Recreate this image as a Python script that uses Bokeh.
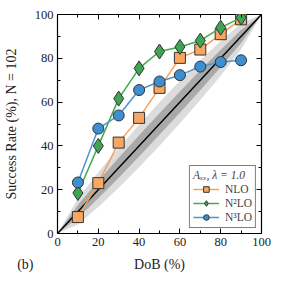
from bokeh.plotting import figure
from bokeh.layouts import column
from bokeh.models import (LinearAxis, Legend, LegendItem, FixedTicker, Range1d)
from bokeh.core.properties import value
from bokeh.embed import file_html
from bokeh.resources import INLINE

# ---- data ----
dob = [10, 20, 30, 40, 50, 60, 70, 80, 90]
nlo = [7.5, 23.0, 41.5, 52.8, 66.5, 80.2, 84.0, 91.0, 97.8]
n2lo = [18.5, 40.0, 61.6, 75.4, 83.1, 85.2, 88.1, 94.0, 98.6]
n3lo = [23.3, 47.9, 53.9, 65.5, 69.4, 72.3, 76.2, 78.3, 79.1]

band_x = [0, 10, 20, 30, 40, 50, 60, 70, 80, 90, 100]
band_1s = [0, 2.97, 3.96, 4.54, 4.85, 4.95, 4.85, 4.54, 3.96, 2.97, 0]
diag = [0, 100]
ticks_major = [0, 20, 40, 60, 80, 100]
ticks_minor = [10, 30, 50, 70, 90]
x_title = "DoB (%)"
y_title = "Success Rate (%), N = 102"
panel_tag = "(b)"

FONT = "Liberation Serif"
W = 271
BL, BR, BT, BB = 54, 10, 14, 20

p = figure(width=W, height=BT + 219 + BB, output_backend="svg", toolbar_location=None,
           x_range=Range1d(0, 100), y_range=Range1d(0, 100),
           min_border_left=BL, min_border_top=BT, min_border_right=BR, min_border_bottom=BB)
p.grid.visible = False
p.outline_line_color = "black"
p.outline_line_width = 1.2
p.background_fill_color = "white"

lo2 = [x - 2 * s for x, s in zip(band_x, band_1s)]
hi2 = [x + 2 * s for x, s in zip(band_x, band_1s)]
lo1 = [x - s for x, s in zip(band_x, band_1s)]
hi1 = [x + s for x, s in zip(band_x, band_1s)]
p.varea(x=band_x, y1=lo2, y2=hi2, fill_color="#dcdcdc")
p.varea(x=band_x, y1=lo1, y2=hi1, fill_color="#a9a9a9")
p.line(diag, diag, line_color="black", line_width=1.5)

series = [
    ("NLO", nlo, "#f6a05a", "#f9a662", "square", 11),
    ("N²LO", n2lo, "#43a84f", "#3fa553", "diamond", 15),
    ("N³LO", n3lo, "#4a95cf", "#3d8fcf", "circle", 11),
]
items = []
for name, ys, lc, fc, mk, sz in series:
    l = p.line(dob, ys, line_color=lc, line_width=1.5)
    s = p.scatter(dob, ys, marker=mk, size=sz, fill_color=fc, line_color="#333333", line_width=1)
    items.append(LegendItem(label=name, renderers=[l, s]))

for ax in (p.xaxis[0], p.yaxis[0]):
    ax.ticker = FixedTicker(ticks=ticks_major, minor_ticks=ticks_minor)
    ax.major_tick_in = 5
    ax.major_tick_out = 0
    ax.minor_tick_in = 3
    ax.minor_tick_out = 0
    ax.axis_line_color = None
    ax.major_label_text_font = FONT
    ax.major_label_text_font_size = "12.5px"
    ax.major_label_text_color = "#222222"
    ax.axis_label_text_font = FONT
    ax.axis_label_text_font_size = "14px"
    ax.axis_label_text_font_style = "normal"
    ax.axis_label_text_color = "#222222"
    ax.major_label_standoff = 4

p.yaxis[0].axis_label = y_title
p.yaxis[0].axis_label_standoff = 13

for loc in ("above", "right"):
    ax = LinearAxis(ticker=FixedTicker(ticks=ticks_major, minor_ticks=ticks_minor))
    ax.major_tick_in = 5
    ax.major_tick_out = 0
    ax.minor_tick_in = 3
    ax.minor_tick_out = 0
    ax.axis_line_color = None
    ax.major_label_text_font_size = "0px"
    ax.major_label_standoff = 0
    p.add_layout(ax, loc)

leg = Legend(items=items, location="bottom_right", title="Aₓₓ, λ = 1.0")
leg.title_text_font = FONT
leg.title_text_font_size = "11.5px"
leg.title_text_font_style = "italic"
leg.label_text_font = FONT
leg.label_text_font_size = "11.5px"
leg.border_line_color = "black"
leg.border_line_width = 1.5
leg.background_fill_alpha = 1.0
leg.glyph_width = 26
leg.glyph_height = 14
leg.label_height = 13
leg.spacing = 0
leg.padding = 3
leg.margin = 5
leg.label_standoff = 6
leg.title_standoff = 1
p.add_layout(leg)

# strip below the plot (frame aligned with the main plot) carrying the
# x-axis title (centred) and the panel tag (as a left-axis label)
H2 = 22
p2 = figure(width=W, height=H2, output_backend="svg", toolbar_location=None,
            x_range=Range1d(0, 100), y_range=Range1d(0, 1),
            min_border_left=BL, min_border_right=BR, min_border_top=0, min_border_bottom=0)
p2.xaxis.visible = False
p2.grid.visible = False
p2.outline_line_color = None
ya = p2.yaxis[0]
ya.ticker = FixedTicker(ticks=[0.5], minor_ticks=[])
ya.major_label_overrides = {0.5: panel_tag}
ya.major_label_standoff = 24
ya.major_tick_in = 0
ya.major_tick_out = 0
ya.minor_tick_in = 0
ya.minor_tick_out = 0
ya.axis_line_color = None
ya.major_label_text_font = FONT
ya.major_label_text_font_size = "14px"
ya.major_label_text_color = "#222222"
p2.text(x=[50], y=[0.5], text=[x_title], text_font=value(FONT),
        text_font_size="14px", text_align="center", text_baseline="middle", text_color="#222222")

layout = column(p, p2, spacing=0)
open("out.html", "w").write(file_html(layout, INLINE))
